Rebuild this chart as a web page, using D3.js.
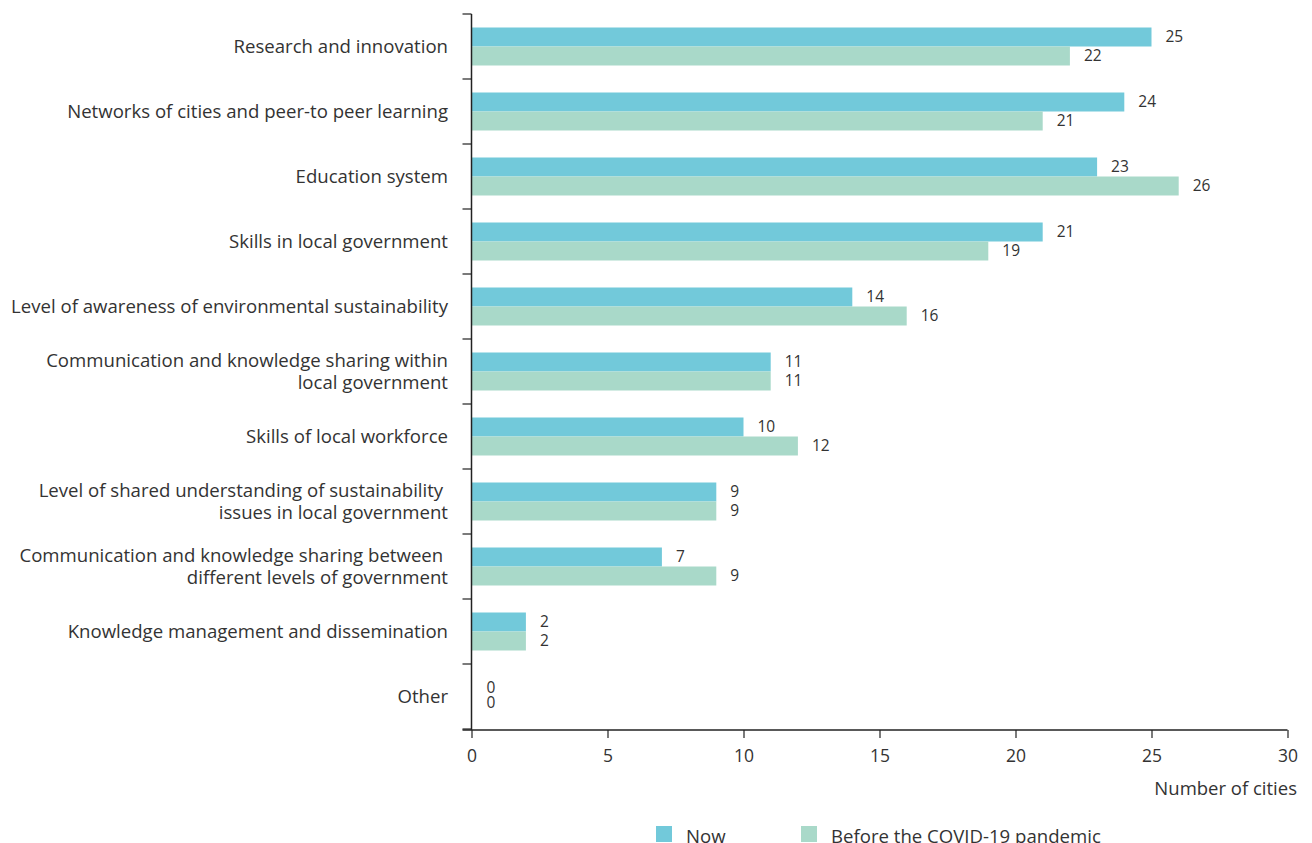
<!DOCTYPE html>
<html><head><meta charset="utf-8">
<script src="https://cdn.jsdelivr.net/npm/d3@7"></script>
<style>body{margin:0;background:#fff;font-family:"Open Sans","Noto Sans",sans-serif;}</style>
</head><body>
<svg id="c" width="1312" height="843"></svg>
<script>
const categories = [
  ["Research and innovation"],
  ["Networks of cities and peer-to peer learning"],
  ["Education system"],
  ["Skills in local government"],
  ["Level of awareness of environmental sustainability"],
  ["Communication and knowledge sharing within", "local government"],
  ["Skills of local workforce"],
  ["Level of shared understanding of sustainability ", "issues in local government"],
  ["Communication and knowledge sharing between ", "different levels of government"],
  ["Knowledge management and dissemination"],
  ["Other"]
];
const nowValues =    [25, 24, 23, 21, 14, 11, 10, 9, 7, 2, 0];
const beforeValues = [22, 21, 26, 19, 16, 11, 12, 9, 9, 2, 0];
const seriesNames = ["Now", "Before the COVID-19 pandemic"];
const seriesColors = ["#72c9da", "#a9d9c9"];
const xTicks = [0, 5, 10, 15, 20, 25, 30];
const xTitle = "Number of cities";

const svg = d3.select("#c");
const mLeft = 471.5, mRight = 1287.5, mTop = 14, mBottom = 729;
const x = d3.scaleLinear().domain([0, 30]).range([mLeft, mRight]);
const y = d3.scaleBand().domain(d3.range(categories.length)).range([mTop, mBottom]).paddingInner(0).paddingOuter(0);
const barH = 19;
const textColor = "#333";

// bars
const g = svg.append("g");
categories.forEach((c, i) => {
  const cy = y(i) + y.bandwidth() / 2;
  [nowValues, beforeValues].forEach((vals, s) => {
    const v = vals[i];
    const by = cy - barH + s * barH;
    g.append("rect").attr("x", x(0)).attr("y", by).attr("width", x(v) - x(0)).attr("height", barH)
      .attr("fill", seriesColors[s]);
    g.append("text").attr("x", x(v) + (v === 0 ? 15 : 14)).attr("y", by + barH / 2 + (v === 0 ? (s===0?1:-3) : 0))
      .attr("dy", "0.35em").attr("font-size", 15.5).attr("fill", textColor).text(v);
  });
});

// y axis
const ya = svg.append("g");
ya.append("line").attr("x1", mLeft).attr("x2", mLeft).attr("y1", mTop).attr("y2", mBottom + 1).attr("stroke", "#222").attr("stroke-width", 1.5);
d3.range(categories.length + 1).forEach(i => {
  const yy = i < categories.length ? y(i) : mBottom;
  ya.append("line").attr("x1", mLeft - 9).attr("x2", mLeft).attr("y1", yy).attr("y2", yy).attr("stroke", "#222").attr("stroke-width", 1.2);
});
categories.forEach((c, i) => {
  const cy = y(i) + y.bandwidth() / 2;
  const lh = 22;
  const t = ya.append("text").attr("text-anchor", "end").attr("font-size", 18.6).attr("fill", textColor);
  c.forEach((line, k) => {
    t.append("tspan").attr("x", 448).attr("y", cy + (k - (c.length - 1) / 2) * lh).attr("dy", "0.35em")
      .style("white-space", "pre").text(line);
  });
});

// x axis
const xAxis = d3.axisBottom(x).tickValues(xTicks).tickSize(8).tickPadding(12).tickSizeOuter(0);
const xa = svg.append("g").attr("transform", `translate(0,${mBottom + 1})`).call(xAxis);
xa.select(".domain").attr("stroke", "#222").attr("stroke-width", 1.5).attr("d", `M${mLeft - 9},0H${mRight}`);
xa.selectAll(".tick line").attr("stroke", "#222").attr("stroke-width", 1.2);
xa.selectAll(".tick text").attr("font-size", 17.5).attr("fill", textColor).attr("font-family", "Open Sans, Noto Sans, sans-serif");
svg.append("text").attr("x", 1297).attr("y", 789).attr("dy", "0.35em").attr("text-anchor", "end")
  .attr("font-size", 18.5).attr("fill", textColor).text(xTitle);

// legend
const legX = [656, 801];
seriesNames.forEach((n, s) => {
  svg.append("rect").attr("x", legX[s]).attr("y", 826).attr("width", 16).attr("height", 16).attr("fill", seriesColors[s]);
  svg.append("text").attr("x", legX[s] + 30).attr("y", 836).attr("dy", "0.35em").attr("font-size", 18.6).attr("fill", textColor).text(n);
});
</script>
</body></html>
